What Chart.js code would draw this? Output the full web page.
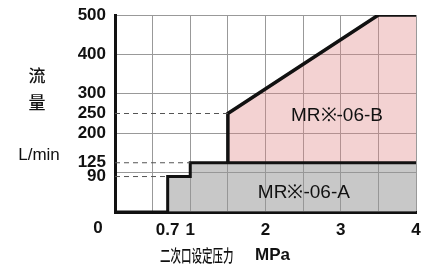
<!DOCTYPE html>
<html lang="zh">
<head>
  <meta charset="UTF-8" />
  <title>MR-06 流量特性</title>
  <script src="https://cdn.jsdelivr.net/npm/chart.js@4"></script>
  <style>
    body { margin: 0; background: #fff; }
  </style>
</head>
<body>
<canvas id="flowChart" width="422" height="267"></canvas>
<script>
  // 数据
  const pressA = [0, 0.7, 0.7, 1, 1, 4];
  const flowA = [0, 0, 90, 90, 125, 125];
  const pressB = [1.5, 1.5, 3.5, 4];
  const flowB = [125, 250, 500, 500];
  const refFlows = [250, 125, 90];      // 虚线
  const refPress = [1.5, 1, 0.7];       // 虚线终点
  const yTicks = [0, 90, 100, 125, 200, 250, 300, 400, 500];
  const yLabels = ['', '90', '', '125', '200', '250', '300', '400', '500'];
  const xTicks = [0, 0.5, 0.7, 1, 1.5, 2, 2.5, 3, 3.5, 4];
  const xLabels = ['', '', '0.7', '1', '', '2', '', '3', '', '4'];
  const labelA = 'MR※-06-A', labelB = 'MR※-06-B';

  const pts = (xs, ys) => xs.map((x, i) => ({ x, y: ys[i] }));

  const refSets = refFlows.map((f, i) => ({
    data: pts([0, refPress[i]], [f, f]),
    borderColor: '#555', borderWidth: 1, borderDash: [5, 4],
    pointRadius: 0, fill: false
  }));

  const textPlugin = {
    id: 'texts',
    afterDatasetsDraw(chart) {
      const c = chart.ctx, x = chart.scales.x, y = chart.scales.y;
      c.save();
      c.fillStyle = '#111';
      c.textAlign = 'center';
      c.textBaseline = 'middle';
      c.font = '19px "Liberation Sans", Arial';
      c.fillText(labelB, x.getPixelForValue(2.95), y.getPixelForValue(245), 100);
      c.fillText(labelA, x.getPixelForValue(2.51), y.getPixelForValue(50), 100);
      // y 轴标题
      c.font = '500 17px "Noto Sans CJK SC"';
      c.fillText('流', 37, 76);
      c.fillText('量', 37, 103);
      c.font = '17px "Liberation Sans", Arial';
      c.fillText('L/min', 39, 155);
      // 原点 0
      c.font = 'bold 17px "Liberation Sans", Arial';
      c.fillText('0', x.left - 17, 228);
      c.textAlign = 'left';
      c.fillText('MPa', 255, 255);
      // x 轴标题（窄体）
      c.translate(160, 255);
      c.scale(0.6, 1);
      c.font = '500 17.5px "Noto Sans CJK SC"';
      c.fillText('二次口设定压力', 0, 0);
      c.restore();
    }
  };

  const ctx = document.getElementById('flowChart').getContext('2d');
  new Chart(ctx, {
    type: 'line',
    data: {
      datasets: [
        ...refSets,
        {
          data: pts(pressA, flowA),
          borderColor: '#111', borderWidth: 3,
          backgroundColor: 'rgba(150,150,150,0.52)',
          fill: 'origin', pointRadius: 0, tension: 0
        },
        {
          data: pts(pressB, flowB),
          borderColor: '#111', borderWidth: 3.5,
          backgroundColor: 'rgba(222,130,130,0.36)',
          fill: { value: 125 }, pointRadius: 0, tension: 0
        }
      ]
    },
    options: {
      responsive: false,
      animation: false,
      devicePixelRatio: 1,
      layout: { padding: { top: 15, right: 6, bottom: 0, left: 0 } },
      plugins: { legend: { display: false }, tooltip: { enabled: false } },
      scales: {
        x: {
          type: 'linear', min: 0, max: 4,
          afterBuildTicks: s => { s.ticks = xTicks.map(v => ({ value: v })); },
          afterFit: s => { s.height = 55; s.paddingLeft = 0; s.paddingRight = 0; },
          ticks: {
            autoSkip: false, maxRotation: 0, padding: 8, color: '#111',
            font: { family: '"Liberation Sans", Arial', size: 17, weight: 'bold' },
            callback: (v, i) => xLabels[i]
          },
          grid: {
            color: c => (c.tick && (c.tick.value === 0 || c.tick.value === 0.7)) ? 'rgba(0,0,0,0)' : '#999',
            lineWidth: 1, drawTicks: false
          },
          border: { color: '#111', width: 3 }
        },
        y: {
          min: 0, max: 500,
          afterBuildTicks: s => { s.ticks = yTicks.map(v => ({ value: v })); },
          afterFit: s => { s.width = 115; s.paddingTop = 0; s.paddingBottom = 0; },
          ticks: {
            autoSkip: false, padding: 9, color: '#111',
            font: { family: '"Liberation Sans", Arial', size: 17, weight: 'bold' },
            callback: (v, i) => yLabels[i]
          },
          grid: {
            color: c => [0, 90, 125, 250].includes(c.tick && c.tick.value) ? 'rgba(0,0,0,0)' : '#999',
            lineWidth: 1, drawTicks: false
          },
          border: { color: '#111', width: 3 }
        }
      }
    },
    plugins: [textPlugin]
  });
</script>
</body>
</html>
